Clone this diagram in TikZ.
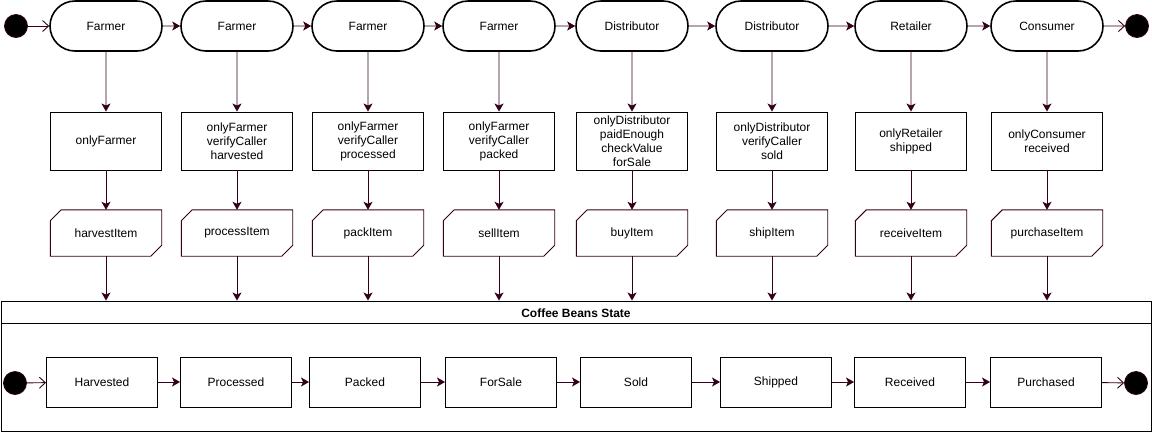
\documentclass[tikz,border=0pt]{standalone}
\usepackage{fontspec}
\setmainfont{Liberation Sans}
\usetikzlibrary{arrows.meta}
\usetikzlibrary{shapes.misc}
\definecolor{wire}{HTML}{33001A}

\begin{document}
\begin{tikzpicture}[x=1pt,y=-1pt,
  every node/.style={font=\fontsize{12}{14}\selectfont},
  actor/.style={draw,line width=1.6pt,rounded rectangle,minimum width=112pt,minimum height=50pt,inner sep=0pt},
  guard/.style={draw,line width=0.9pt,align=center,minimum width=111pt,minimum height=58pt,inner xsep=2pt,inner ysep=1pt},
  call/.style={minimum width=111pt,minimum height=46pt,inner sep=0pt},
  cardline/.style={draw=wire,line width=0.9pt},
  state/.style={draw,line width=0.9pt,minimum width=111pt,minimum height=50pt,inner sep=0pt},
  dot/.style={circle,fill=black,draw=wire,line width=0.8pt,minimum size=23pt,inner sep=0pt},
  flow/.style={draw=wire,line width=0.9pt,-{Stealth[length=8pt,width=9pt,inset=2pt]}},
  open/.style={draw=wire,line width=0.9pt,-{Straight Barb[length=6pt,width=11pt]}}]
\useasboundingbox (0,0) rectangle (1152,432);

\foreach \x/\role/\guard/\fn/\sx/\st [count=\i] in {
  106/Farmer/onlyFarmer/harvestItem/102/Harvested,
  237/Farmer/{onlyFarmer\\verifyCaller\\harvested}/processItem/236/Processed,
  368/Farmer/{onlyFarmer\\verifyCaller\\processed}/packItem/365/Packed,
  499/Farmer/{onlyFarmer\\verifyCaller\\packed}/sellItem/501/ForSale,
  632/Distributor/{onlyDistributor\\paidEnough\\checkValue\\forSale}/buyItem/636/Sold,
  772/Distributor/{onlyDistributor\\verifyCaller\\sold}/shipItem/776/Shipped,
  911/Retailer/{onlyRetailer\\shipped}/receiveItem/910/Received,
  1047/Consumer/{onlyConsumer\\received}/purchaseItem/1046/Purchased}
{
  \node[actor] (role\i) at (\x,26) {\role};
  \node[guard] (guard\i) at (\x,141) {\guard};
  \node[call] (fn\i) at (\x,233) {\fn};
  \draw[cardline] ([xshift=11pt]fn\i.north west) -- (fn\i.north east) -- ([yshift=11pt]fn\i.south east)
    -- ([xshift=-11pt]fn\i.south east) -- (fn\i.south west) -- ([yshift=-11pt]fn\i.north west) -- cycle;
  \node[state] (st\i) at (\sx,382) {\st};
}

\node[draw,line width=0.9pt,minimum width=1150pt,minimum height=130pt,inner sep=0pt] (machine) at (576,366) {};
\node (title) at (576,313) {\bfseries Coffee Beans State};
\draw[line width=0.9pt] ([yshift=-23pt]machine.north west) -- ([yshift=-23pt]machine.north east);

\node[dot] (start) at (16,26) {};
\node[dot] (stop) at (1137,26) {};
\node[dot] (begin) at (15,383) {};
\node[dot] (end) at (1136,383) {};

\foreach \i in {1,...,8}
{
  \draw[flow] (role\i) -- (guard\i);
  \draw[flow] (guard\i) -- (fn\i);
  \draw[flow] (fn\i) -- (fn\i |- machine.north);
}
\foreach \i [evaluate=\i as \j using int(\i+1)] in {1,...,7}
{
  \draw[flow] (role\i) -- (role\j);
  \draw[flow] (st\i) -- (st\j);
}
\draw[open] (start) -- (role1);
\draw[open] (role8) -- (stop);
\draw[open] (begin) -- (st1);
\draw[open] (st8) -- (end);
\end{tikzpicture}
\end{document}
